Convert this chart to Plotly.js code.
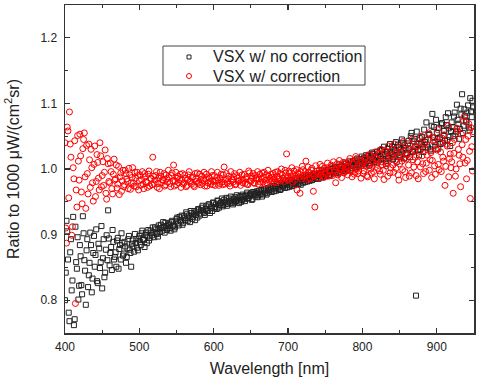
<!DOCTYPE html>
<html>
<head>
<meta charset="utf-8">
<script src="https://cdn.plot.ly/plotly-3.0.1.min.js"></script>
<style>
  html, body { margin: 0; padding: 0; background: #fff; }
  #chart { width: 480px; height: 378px; }
</style>
</head>
<body>
<div id="chart"></div>
<script>
// Sampled wavelengths (nm): even channels
const wavelength = [
  400,402,404,406,408,410,412,414,416,418, 420,422,424,426,428,430,432,434,436,438,
  440,442,444,446,448,450,452,454,456,458, 460,462,464,466,468,470,472,474,476,478,
  480,482,484,486,488,490,492,494,496,498, 500,502,504,506,508,510,512,514,516,518,
  520,522,524,526,528,530,532,534,536,538, 540,542,544,546,548,550,552,554,556,558,
  560,562,564,566,568,570,572,574,576,578, 580,582,584,586,588,590,592,594,596,598,
  600,602,604,606,608,610,612,614,616,618, 620,622,624,626,628,630,632,634,636,638,
  640,642,644,646,648,650,652,654,656,658, 660,662,664,666,668,670,672,674,676,678,
  680,682,684,686,688,690,692,694,696,698, 700,702,704,706,708,710,712,714,716,718,
  720,722,724,726,728,730,732,734,736,738, 740,742,744,746,748,750,752,754,756,758,
  760,762,764,766,768,770,772,774,776,778, 780,782,784,786,788,790,792,794,796,798,
  800,802,804,806,808,810,812,814,816,818, 820,822,824,826,828,830,832,834,836,838,
  840,842,844,846,848,850,852,854,856,858, 860,862,864,866,868,870,872,874,876,878,
  880,882,884,886,888,890,892,894,896,898, 900,902,904,906,908,910,912,914,916,918,
  920,922,924,926,928,930,932,934,936,938, 940,942,944,946,948
];
// Odd channels
const wavelengthOdd = [
  401,403,405,407,409,411,413,415,417,419, 421,423,425,427,429,431,433,435,437,439,
  441,443,445,447,449,451,453,455,457,459, 461,463,465,467,469,471,473,475,477,479,
  481,483,485,487,489,491,493,495,497,499, 501,503,505,507,509,511,513,515,517,519,
  521,523,525,527,529,531,533,535,537,539, 541,543,545,547,549,551,553,555,557,559,
  561,563,565,567,569,571,573,575,577,579, 581,583,585,587,589,591,593,595,597,599,
  601,603,605,607,609,611,613,615,617,619, 621,623,625,627,629,631,633,635,637,639,
  641,643,645,647,649,651,653,655,657,659, 661,663,665,667,669,671,673,675,677,679,
  681,683,685,687,689,691,693,695,697,699, 701,703,705,707,709,711,713,715,717,719,
  721,723,725,727,729,731,733,735,737,739, 741,743,745,747,749,751,753,755,757,759,
  761,763,765,767,769,771,773,775,777,779, 781,783,785,787,789,791,793,795,797,799,
  801,803,805,807,809,811,813,815,817,819, 821,823,825,827,829,831,833,835,837,839,
  841,843,845,847,849,851,853,855,857,859, 861,863,865,867,869,871,873,875,877,879,
  881,883,885,887,889,891,893,895,897,899, 901,903,905,907,909,911,913,915,917,919,
  921,923,925,927,929,931,933,935,937,939, 941,943,945,947,949
];

// Ratio to the 1000 uW/(cm^2 sr) reference, no correction applied (even channels)
const ratioNoCorrection = [
  0.800,0.921,0.862,0.768,0.893,0.830,0.762,0.912,0.848,0.801, 0.884,0.823,0.928,0.861,0.793,0.893,0.838,0.903,0.812,0.872,
  0.851,0.908,0.826,0.879,0.858,0.818,0.893,0.842,0.899,0.937, 0.853,0.881,0.907,0.862,0.873,0.891,0.848,0.884,0.902,0.868,
  0.889,0.857,0.879,0.898,0.872,0.886,0.882,0.901,0.893,0.876, 0.898,0.884,0.906,0.892,0.899,0.887,0.907,0.895,0.902,0.911,
  0.896,0.908,0.901,0.914,0.904,0.910,0.919,0.903,0.913,0.909, 0.917,0.906,0.921,0.914,0.911,0.924,0.917,0.927,0.920,0.915,
  0.928,0.922,0.931,0.925,0.919,0.933,0.927,0.936,0.930,0.926, 0.938,0.932,0.941,0.935,0.930,0.943,0.937,0.946,0.940,0.936,
  0.948,0.942,0.939,0.951,0.945,0.949,0.943,0.953,0.947,0.944, 0.955,0.949,0.952,0.946,0.957,0.951,0.955,0.948,0.959,0.953,
  0.957,0.951,0.961,0.955,0.959,0.963,0.954,0.962,0.958,0.966, 0.960,0.964,0.968,0.961,0.966,0.970,0.963,0.968,0.972,0.965,
  0.970,0.974,0.967,0.972,0.976,0.969,0.974,0.978,0.971,0.976, 0.980,0.973,0.978,0.982,0.975,0.979,0.984,0.977,0.981,0.986,
  0.979,0.983,0.988,0.981,0.985,0.990,0.983,0.987,0.992,0.985, 0.989,0.994,0.987,0.991,0.996,0.989,0.993,0.998,0.991,0.995,
  1.000,0.993,0.997,1.003,0.995,0.999,1.005,0.997,1.002,1.008, 0.999,1.004,1.010,1.001,1.006,1.013,1.003,1.008,1.015,1.005,
  1.010,1.017,1.007,1.012,1.020,1.009,1.015,1.023,1.011,1.018, 1.026,1.013,1.020,1.029,1.015,1.022,1.008,1.031,1.017,1.025,
  1.034,1.019,1.027,1.011,1.037,1.021,1.030,1.040,1.016,1.032, 1.024,1.043,1.018,1.055,1.027,1.046,0.807,1.038,1.021,1.030,
  1.049,1.026,1.041,1.071,1.033,1.052,1.028,1.084,1.064,1.036, 1.055,1.031,1.048,1.068,1.040,1.058,1.079,1.044,1.062,1.035,
  1.071,1.050,1.086,1.057,1.075,1.046,1.092,1.114,1.066,1.081, 1.072,1.097,1.059,1.088,1.104
];
// No correction, odd channels
const ratioNoCorrectionOdd = [
  0.842,0.905,0.781,0.873,0.815,0.927,0.771,0.858,0.896,0.822, 0.867,0.809,0.902,0.845,0.876,0.820,0.857,0.884,0.833,0.898,
  0.869,0.829,0.886,0.849,0.913,0.864,0.835,0.877,0.861,0.894, 0.872,0.846,0.889,0.866,0.851,0.895,0.878,0.862,0.887,0.871,
  0.882,0.866,0.893,0.877,0.851,0.891,0.874,0.887,0.880,0.894, 0.889,0.902,0.893,0.881,0.903,0.897,0.891,0.906,0.899,0.903,
  0.911,0.902,0.897,0.909,0.915,0.906,0.912,0.918,0.907,0.915, 0.910,0.919,0.913,0.908,0.920,0.926,0.914,0.922,0.929,0.918,
  0.925,0.934,0.921,0.929,0.936,0.924,0.931,0.922,0.934,0.939, 0.929,0.937,0.944,0.933,0.939,0.936,0.946,0.933,0.943,0.949,
  0.940,0.946,0.952,0.941,0.948,0.955,0.945,0.950,0.956,0.947, 0.951,0.958,0.948,0.954,0.950,0.960,0.952,0.957,0.950,0.961,
  0.954,0.959,0.964,0.956,0.961,0.953,0.965,0.960,0.963,0.957, 0.967,0.962,0.958,0.969,0.964,0.961,0.971,0.966,0.969,0.974,
  0.966,0.971,0.977,0.970,0.968,0.979,0.973,0.976,0.981,0.972, 0.976,0.983,0.974,0.980,0.977,0.986,0.979,0.982,0.976,0.984,
  0.987,0.980,0.985,0.991,0.982,0.988,0.984,0.993,0.986,0.990, 0.985,0.992,0.998,0.988,0.994,0.991,0.999,0.990,0.996,1.001,
  0.996,1.002,0.994,1.000,1.007,0.998,1.004,1.000,1.010,1.003, 1.007,0.998,1.006,1.012,1.004,1.009,1.016,1.006,1.011,1.019,
  1.008,1.014,1.021,1.012,1.005,1.017,1.025,1.014,1.020,1.010, 1.019,1.028,1.016,1.023,1.034,1.012,1.026,1.020,1.038,1.022,
  1.015,1.029,1.041,1.024,1.033,1.018,1.045,1.028,1.036,1.022, 1.039,1.031,1.050,1.026,1.042,1.034,1.057,1.029,1.047,1.038,
  1.033,1.060,1.044,1.037,1.053,1.030,1.066,1.048,1.041,1.075, 1.046,1.063,1.038,1.070,1.052,1.043,1.067,1.085,1.049,1.058,
  1.064,1.080,1.053,1.098,1.069,1.061,1.083,1.055,1.091,1.074, 1.086,1.063,1.108,1.079,1.094
];

// Same ratio after the correction (even channels)
const ratioCorrected = [
  1.040,0.887,1.058,1.087,1.018,0.912,0.985,0.795,0.942,1.012, 1.053,0.965,1.031,1.055,0.940,0.993,1.038,0.972,1.002,0.951,
  1.035,0.981,1.010,0.968,1.020,0.990,0.975,1.029,0.954,1.008, 0.979,0.996,0.962,1.015,0.985,0.971,1.004,0.988,0.966,0.998,
  0.976,0.993,0.981,1.001,0.969,0.987,0.978,0.995,0.973,0.990, 0.982,0.975,0.996,0.970,0.988,0.979,0.992,0.974,0.985,1.018,
  0.977,0.990,0.972,0.986,0.995,0.979,0.983,0.974,0.991,0.980, 0.987,0.973,0.994,1.006,0.981,0.976,0.989,0.984,0.972,0.993,
  0.979,0.986,0.975,0.991,0.982,0.977,0.988,0.973,0.985,0.994, 0.980,0.976,0.989,0.983,0.974,0.992,0.979,0.986,0.977,0.990,
  0.981,0.975,0.987,0.983,0.978,0.992,0.976,1.003,0.984,0.979, 0.989,0.974,0.985,0.980,0.993,0.977,0.986,0.982,0.975,0.991,
  0.983,0.978,0.988,0.976,0.994,0.981,0.986,0.979,0.990,0.984, 0.977,0.992,0.985,0.980,0.995,0.983,0.978,0.989,0.986,0.981,
  0.993,0.984,0.979,0.996,0.987,0.982,0.991,0.985,0.998,1.023, 0.983,0.994,0.988,0.980,0.997,0.989,0.968,0.992,0.963,0.985,
  0.999,0.990,1.012,0.984,0.995,0.986,1.001,0.966,0.942,0.992, 0.986,0.998,0.991,1.004,0.987,0.995,1.002,0.989,0.997,1.006,
  0.990,0.999,0.979,1.008,0.993,1.002,0.987,1.010,0.996,1.003, 0.991,1.012,0.998,0.988,1.007,0.995,1.015,0.993,1.004,0.986,
  1.010,0.997,1.018,0.990,1.006,1.021,0.994,1.009,0.985,1.016, 1.001,1.024,0.992,1.011,0.998,1.027,1.005,0.989,1.019,1.002,
  1.030,0.995,1.013,1.025,0.991,1.008,1.033,0.999,1.017,0.987, 1.022,1.006,1.036,0.994,1.014,1.028,0.990,1.011,1.039,1.003,
  1.020,0.993,1.032,1.009,1.044,0.998,1.025,1.013,1.048,0.992, 1.029,1.007,1.041,0.996,1.018,1.052,1.004,1.035,0.988,1.023,
  1.011,0.963,1.045,1.000,1.058,1.021,0.973,1.037,1.073,1.009, 0.985,1.050,1.027,1.063,0.997
];
// Corrected, odd channels
const ratioCorrectedOdd = [
  0.910,1.064,0.956,1.038,0.899,1.002,1.043,0.968,1.051,0.983, 1.020,0.947,1.045,0.988,1.036,0.962,1.014,1.030,0.979,1.007,
  0.958,1.022,0.986,1.040,0.973,1.011,0.995,0.963,1.016,0.981, 1.009,0.970,0.992,0.983,1.006,0.977,0.961,0.994,0.982,0.973,
  0.998,0.985,0.970,0.991,0.979,1.002,0.974,0.986,0.995,0.968, 0.991,0.984,0.977,0.993,0.981,0.972,0.997,0.986,0.976,0.989,
  0.983,0.996,0.978,0.970,0.989,0.984,0.993,0.976,0.985,0.998, 0.978,0.990,0.982,0.974,0.995,0.986,0.979,0.992,0.983,0.977,
  0.991,0.973,0.984,0.996,0.980,0.987,0.975,0.993,0.981,0.978, 0.992,0.984,0.978,0.995,0.985,0.974,0.988,0.981,0.996,0.976,
  0.990,0.982,0.995,0.975,0.986,0.980,0.991,0.977,0.993,0.985, 0.978,0.996,0.983,0.988,0.976,0.990,0.981,0.995,0.984,0.979,
  0.992,0.985,0.977,0.997,0.982,0.989,0.993,0.978,0.986,0.996, 0.985,0.980,0.994,0.988,0.977,0.991,0.998,0.983,0.992,0.987,
  0.980,0.995,0.989,0.984,0.993,1.000,0.986,0.981,0.994,0.988, 0.997,0.985,1.002,0.991,0.983,0.999,0.994,0.988,0.996,1.004,
  0.988,0.996,0.991,1.003,0.985,0.998,0.993,0.989,1.005,0.997, 0.993,1.007,0.996,0.988,1.001,0.992,1.009,0.998,0.990,1.004,
  1.011,0.995,1.002,0.991,1.013,0.999,1.005,0.994,1.008,0.997, 1.003,1.016,0.996,1.009,0.992,1.019,1.001,0.997,1.013,1.005,
  0.993,1.015,1.004,0.988,1.022,1.000,1.012,0.996,1.026,1.007, 1.014,0.997,1.030,1.006,0.984,1.018,1.010,1.035,0.994,1.021,
  1.006,1.038,1.001,1.019,0.983,1.026,1.012,1.042,0.996,1.015, 1.031,0.989,1.024,1.046,1.003,1.018,1.034,0.985,1.027,1.050,
  1.008,1.038,0.996,1.021,1.055,1.014,0.987,1.043,1.005,1.031, 1.060,0.999,1.026,1.047,1.012,0.975,1.038,1.066,1.016,1.002,
  1.040,1.024,0.989,1.062,1.030,1.008,1.053,1.018,1.080,1.045, 1.013,1.069,0.955,1.034,1.057
];

const seriesNames = ['VSX w/ no correction', 'VSX w/ correction'];
const seriesColors = ['#222222', '#ff0000'];

const font = 'Arial, "Liberation Sans", sans-serif';

const traces = [
  {
    x: wavelength.concat(wavelengthOdd),
    y: ratioNoCorrection.concat(ratioNoCorrectionOdd),
    name: seriesNames[0], type: 'scatter', mode: 'markers', showlegend: false,
    marker: { symbol: 'square-open', size: 5, color: seriesColors[0], line: { width: 1, color: seriesColors[0] } }
  },
  {
    x: wavelength.concat(wavelengthOdd),
    y: ratioCorrected.concat(ratioCorrectedOdd),
    name: seriesNames[1], type: 'scatter', mode: 'markers', showlegend: false,
    marker: { symbol: 'circle-open', size: 6, color: seriesColors[1], line: { width: 1, color: seriesColors[1] } }
  }
];

// Legend box drawn in paper coordinates (compact two-row key)
const key = { x0: 0.2396, x1: 0.7335, y0: 0.756, y1: 0.875, symX: 0.3032, textX: 0.357, rows: [0.8415, 0.7835] };

const shapes = [
  { type: 'rect', xref: 'paper', yref: 'paper', x0: key.x0, x1: key.x1, y0: key.y0, y1: key.y1,
    line: { color: '#444', width: 1 }, fillcolor: '#fff', layer: 'above' },
  { type: 'rect', xref: 'paper', yref: 'paper',
    x0: key.symX - 0.0049, x1: key.symX + 0.0049, y0: key.rows[0] - 0.0061, y1: key.rows[0] + 0.0061,
    line: { color: seriesColors[0], width: 1 }, layer: 'above' },
  { type: 'circle', xref: 'paper', yref: 'paper',
    x0: key.symX - 0.0061, x1: key.symX + 0.0061, y0: key.rows[1] - 0.0076, y1: key.rows[1] + 0.0076,
    line: { color: seriesColors[1], width: 1 }, layer: 'above' }
];

const annotations = seriesNames.map((name, i) => ({
  xref: 'paper', yref: 'paper', x: key.textX, y: key.rows[i],
  xanchor: 'left', yanchor: 'middle', showarrow: false, text: name,
  font: { family: font, size: 16, color: '#222' }
}));

const axisCommon = {
  showgrid: false, zeroline: false,
  showline: true, linecolor: '#333', linewidth: 1.5, mirror: 'ticks',
  ticks: 'inside', ticklen: 5, tickwidth: 1.2, tickcolor: '#333',
  tickfont: { family: font, size: 12, color: '#222' }
};

const layout = {
  width: 480, height: 378,
  margin: { l: 65, r: 6, t: 5, b: 45 },
  paper_bgcolor: '#fff', plot_bgcolor: '#fff',
  font: { family: font, color: '#222' },
  showlegend: false,
  shapes: shapes,
  annotations: annotations,
  xaxis: Object.assign({}, axisCommon, {
    range: [400, 950], dtick: 100, tick0: 400,
    ticklabelstandoff: 2,
    minor: { ticks: 'inside', ticklen: 3, dtick: 50, tickcolor: '#333', tickwidth: 1 },
    title: { text: 'Wavelength [nm]', font: { family: font, size: 16, color: '#222' }, standoff: 10 }
  }),
  yaxis: Object.assign({}, axisCommon, {
    range: [0.75, 1.25], dtick: 0.1, tick0: 0.8, tickformat: '.1f',
    ticklabelstandoff: 4,
    minor: { ticks: 'inside', ticklen: 3, dtick: 0.05, tickcolor: '#333', tickwidth: 1 },
    title: { text: 'Ratio to 1000 μW/(cm<sup>2</sup>sr)', font: { family: font, size: 16, color: '#222' }, standoff: 17 }
  })
};

Plotly.newPlot('chart', traces, layout, { displayModeBar: false, staticPlot: true });
</script>
</body>
</html>
